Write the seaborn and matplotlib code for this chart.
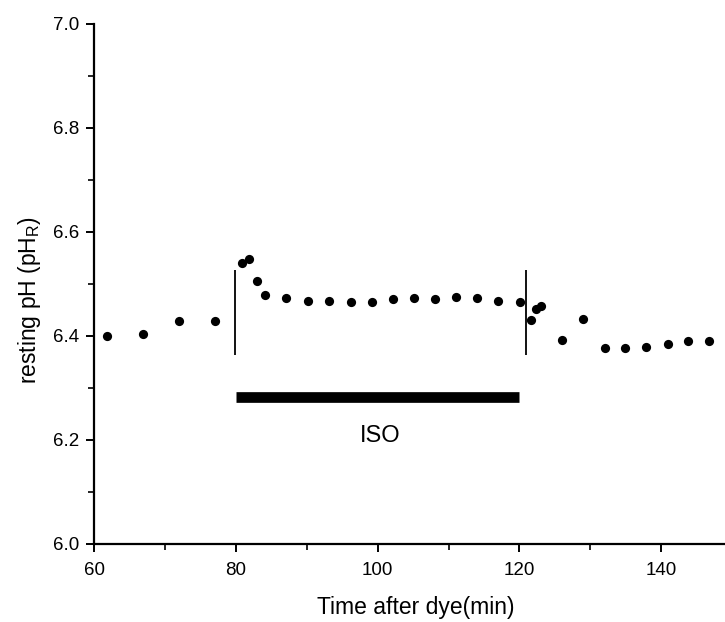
import matplotlib
matplotlib.use("Agg")
import matplotlib.pyplot as plt
import seaborn as sns
import pandas as pd
from matplotlib.ticker import MultipleLocator

# Resting pH measurements over time after dye loading
time_min = [61.8, 66.9, 72.0, 77.0, 80.9, 81.9, 83.0, 84.1, 87.1, 90.1, 93.1,
            96.2, 99.2, 102.1, 105.1, 108.1, 111.1, 114.0, 117.0, 120.1,
            121.6, 122.4, 123.1, 126.0, 129.0, 132.0, 134.9, 137.9, 140.9,
            143.8, 146.8]
resting_ph = [6.400, 6.404, 6.429, 6.429, 6.541, 6.548, 6.506, 6.479, 6.474,
              6.468, 6.467, 6.465, 6.465, 6.472, 6.474, 6.472, 6.475, 6.474,
              6.467, 6.465, 6.431, 6.452, 6.458, 6.392, 6.432, 6.376, 6.376,
              6.379, 6.385, 6.391, 6.391]

# ISO application window
iso_on, iso_off = 79.8, 120.9
iso_bar_start, iso_bar_end = 80.0, 119.9
iso_bar_level = 6.283
marker_low, marker_high = 6.364, 6.526

df = pd.DataFrame({"time": time_min, "ph": resting_ph})

sns.set_style("ticks")
plt.rcParams["font.family"] = ["Liberation Sans", "DejaVu Sans"]
plt.rcParams["mathtext.fontset"] = "custom"
plt.rcParams["mathtext.rm"] = "Liberation Sans"
plt.rcParams["mathtext.it"] = "Liberation Sans"
plt.rcParams["text.color"] = "black"
plt.rcParams["axes.labelcolor"] = "black"
plt.rcParams["axes.edgecolor"] = "black"

fig = plt.figure(figsize=(7.25, 6.22), dpi=100)
ax = fig.add_axes([94.3 / 725, 78 / 622, (725 - 94.3) / 725, 520 / 622])

sns.scatterplot(data=df, x="time", y="ph", ax=ax, color="black",
                s=44, edgecolor="black", linewidth=0, zorder=3)

ax.vlines([iso_on, iso_off], marker_low, marker_high, color="black", lw=1.3)
ax.hlines(iso_bar_level, iso_bar_start, iso_bar_end, color="black", lw=7.7,
          capstyle="butt")
ax.text(100.3, 6.208, "ISO", ha="center", va="center", fontsize=17,
        color="black")

ax.set_xlim(60, 149)
ax.set_ylim(6.0, 7.0)
ax.xaxis.set_major_locator(MultipleLocator(20))
ax.xaxis.set_minor_locator(MultipleLocator(10))
ax.yaxis.set_major_locator(MultipleLocator(0.2))
ax.yaxis.set_minor_locator(MultipleLocator(0.1))
ax.yaxis.set_major_formatter(plt.FormatStrFormatter("%.1f"))

for side in ("top", "right"):
    ax.spines[side].set_visible(False)
for side in ("left", "bottom"):
    ax.spines[side].set_linewidth(1.6)

ax.tick_params(which="major", direction="out", length=6, width=1.4,
               labelsize=13.5, pad=5, colors="black")
ax.tick_params(axis="x", which="major", pad=7)
ax.tick_params(which="minor", direction="out", length=4, width=1.2,
               colors="black")

ax.set_xlabel("Time after dye(min)", fontsize=16.5)
ax.set_ylabel("resting pH (pH$_R$)", fontsize=16.5)
ax.xaxis.set_label_coords((416 - 94.3) / (725 - 94.3), -0.1)
ax.yaxis.set_label_coords(-(94.3 - 43) / (725 - 94.3), (544 - 300) / 520)

fig.savefig("out.png", dpi=100)
